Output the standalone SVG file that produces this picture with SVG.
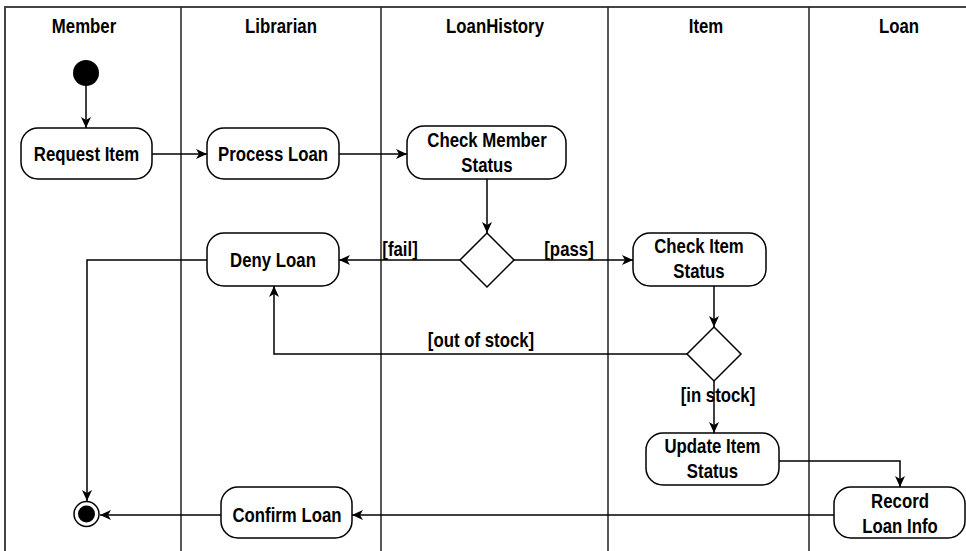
<svg xmlns="http://www.w3.org/2000/svg" width="966" height="551" viewBox="0 0 966 551">
<style>
  text { font-family: "Liberation Sans", Arial, sans-serif; font-size: 20px; font-weight: bold; fill: #000; text-anchor: middle; }
  .lane { stroke: #222; stroke-width: 1.5; fill: none; }
  .border { stroke: #444; stroke-width: 2; fill: none; }
  .act { fill: #fff; stroke: #000; stroke-width: 1.5; }
  .dec { fill: #fff; stroke: #000; stroke-width: 1.5; }
  .edge { fill: none; stroke: #000; stroke-width: 1.5; marker-end: url(#arr); }
</style>
<defs>
  <marker id="arr" markerUnits="userSpaceOnUse" markerWidth="12" markerHeight="10" refX="11" refY="5" orient="auto">
    <path d="M0,0 L11,5 L0,10 L3,5 Z" fill="#000"/>
  </marker>
</defs>
<rect width="966" height="551" fill="#fff"/>
<g id="lanes">
  <path class="border" d="M5,551 V7 H966"/>
  <path class="lane" d="M181,7 V551 M381,7 V551 M608,7 V551 M809,7 V551"/>
  <text transform="translate(84,33) scale(0.84,1)">Member</text>
  <text transform="translate(281,33) scale(0.84,1)">Librarian</text>
  <text transform="translate(495,33) scale(0.84,1)">LoanHistory</text>
  <text transform="translate(706,33) scale(0.84,1)">Item</text>
  <text transform="translate(899,33) scale(0.84,1)">Loan</text>
</g>
<g id="connectors">
  <path class="edge" d="M86,86 V128"/>
  <path class="edge" d="M152,154 H207"/>
  <path class="edge" d="M339,154 H407"/>
  <path class="edge" d="M487,179 V233"/>
  <path class="edge" d="M460,260 H339"/>
  <path class="edge" d="M514,260 H633"/>
  <path class="edge" d="M714,286 V327"/>
  <path class="edge" d="M687,354 H274 V286"/>
  <path class="edge" d="M714,381 V433"/>
  <path class="edge" d="M779,461 H900 V487"/>
  <path class="edge" d="M834,515 H352"/>
  <path class="edge" d="M221,515 H100"/>
  <path class="edge" d="M207,260 H87 V501"/>
  <text transform="translate(400,256) scale(0.84,1)">[fail]</text>
  <text transform="translate(569,256) scale(0.84,1)">[pass]</text>
  <text transform="translate(481,347) scale(0.84,1)">[out of stock]</text>
  <text transform="translate(718,402) scale(0.84,1)">[in stock]</text>
</g>
<g id="start"><circle cx="86" cy="73" r="13" fill="#000"/></g>
<g id="end"><circle cx="86.5" cy="514" r="12.5" fill="#fff" stroke="#000" stroke-width="1.5"/><circle cx="86.5" cy="514" r="8.5" fill="#000"/></g>
<g id="request-item"><rect class="act" x="21" y="128" width="131" height="51" rx="17"/><text transform="translate(86.5,161) scale(0.84,1)">Request Item</text></g>
<g id="process-loan"><rect class="act" x="207" y="128" width="132" height="51" rx="17"/><text transform="translate(273,161) scale(0.84,1)">Process Loan</text></g>
<g id="check-member-status"><rect class="act" x="407" y="126" width="159" height="53" rx="17"/><text transform="translate(487,147) scale(0.84,1)">Check Member</text><text transform="translate(487,172) scale(0.84,1)">Status</text></g>
<g id="decision-member"><path class="dec" d="M487,233 L514,260 L487,287 L460,260 Z"/></g>
<g id="deny-loan"><rect class="act" x="207" y="233" width="132" height="53" rx="17"/><text transform="translate(273,267) scale(0.84,1)">Deny Loan</text></g>
<g id="check-item-status"><rect class="act" x="633" y="233" width="133" height="53" rx="17"/><text transform="translate(699,253) scale(0.84,1)">Check Item</text><text transform="translate(699,278) scale(0.84,1)">Status</text></g>
<g id="decision-item"><path class="dec" d="M714,327 L741,354 L714,381 L687,354 Z"/></g>
<g id="update-item-status"><rect class="act" x="646" y="433" width="133" height="52" rx="17"/><text transform="translate(712.5,453) scale(0.84,1)">Update Item</text><text transform="translate(712.5,478) scale(0.84,1)">Status</text></g>
<g id="record-loan-info"><rect class="act" x="834" y="487" width="131" height="51" rx="17"/><text transform="translate(900,508) scale(0.84,1)">Record</text><text transform="translate(900,533) scale(0.84,1)">Loan Info</text></g>
<g id="confirm-loan"><rect class="act" x="221" y="487" width="131" height="51" rx="17"/><text transform="translate(287,522) scale(0.84,1)">Confirm Loan</text></g>
</svg>
